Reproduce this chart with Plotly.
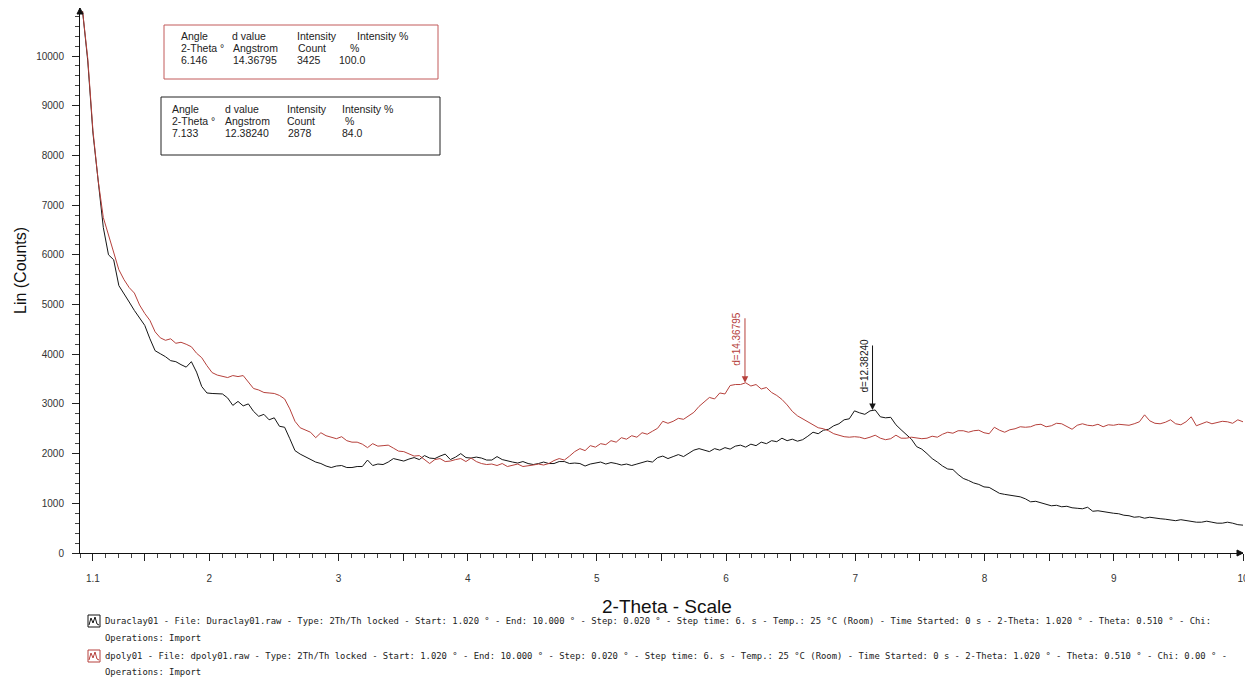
import numpy as np
import plotly.graph_objects as go

# Scan parameters (same for both patterns)
SCAN_START = 1.020
SCAN_END = 10.000
SCAN_STEP = 0.020

# Intensities (Lin counts) along the 2-Theta scan
duraclay01 = [
    10900, 9900, 8450, 7450, 6550, 6000, 5900, 5380, 5200, 5050,
    4880, 4740, 4580, 4310, 4070, 4010, 3950, 3870, 3850, 3790,
    3740, 3850, 3640, 3350, 3220, 3210, 3200, 3200, 3120, 2970,
    3050, 2960, 3000, 2850, 2750, 2790, 2680, 2720, 2550, 2530,
    2300, 2060, 1990, 1940, 1880, 1830, 1800, 1750, 1720, 1750,
    1760, 1720, 1720, 1740, 1740, 1870, 1760, 1790, 1780, 1830,
    1900, 1880, 1850, 1890, 1920, 1880, 1960, 1910, 1900, 1950,
    1990, 1880, 1930, 2000, 1920, 1910, 1930, 1910, 1870, 1870,
    1940, 1880, 1850, 1830, 1810, 1840, 1800, 1780, 1800, 1830,
    1800, 1800, 1840, 1840, 1800, 1810, 1800, 1750, 1790, 1810,
    1830, 1790, 1820, 1800, 1770, 1790, 1760, 1790, 1820, 1850,
    1830, 1920, 1950, 1900, 1940, 1980, 1940, 2010, 2070, 2100,
    2070, 2040, 2100, 2070, 2120, 2090, 2150, 2170, 2130, 2190,
    2160, 2230, 2200, 2260, 2240, 2310, 2260, 2290, 2250, 2280,
    2350, 2430, 2400, 2470, 2490, 2560, 2600, 2680, 2700, 2860,
    2820, 2790, 2860, 2878, 2740, 2720, 2730, 2580, 2480, 2390,
    2290, 2140, 2090, 2000, 1900, 1830, 1750, 1690, 1680, 1580,
    1500, 1460, 1410, 1380, 1330, 1320, 1260, 1200, 1180, 1160,
    1140, 1130, 1090, 1030, 1040, 1010, 970, 950, 960, 930,
    940, 910, 900, 890, 920, 840, 850, 830, 820, 800,
    790, 760, 750, 720, 730, 700, 720, 700, 690, 680,
    670, 650, 670, 650, 640, 620, 620, 640, 620, 600,
    600, 620, 600, 570, 560,
]

dpoly01 = [
    10900, 9950, 8500, 7500, 6750, 6400, 6050, 5700, 5500, 5340,
    5230, 4990, 4820, 4680, 4450, 4330, 4280, 4310, 4220, 4240,
    4200, 4150, 4020, 3930, 3770, 3630, 3580, 3550, 3530, 3570,
    3550, 3570, 3430, 3310, 3280, 3230, 3220, 3210, 3170, 3100,
    2900, 2650, 2520, 2480, 2430, 2320, 2420, 2360, 2330, 2300,
    2340, 2260, 2230, 2230, 2190, 2120, 2200, 2150, 2160, 2170,
    2110, 2050, 2040, 1990, 1950, 1960, 1870, 1800, 1880, 1900,
    1840, 1850, 1880, 1900, 1840, 1910, 1840, 1800, 1780, 1790,
    1760, 1800, 1740, 1760, 1790, 1740, 1750, 1770, 1790, 1770,
    1800, 1860, 1900, 1870, 1950, 2040, 2100, 2060, 2160, 2130,
    2200, 2180, 2260, 2230, 2320, 2290, 2360, 2330, 2420, 2390,
    2450, 2510, 2650, 2610, 2650, 2710, 2690, 2760, 2830, 2950,
    3040, 3130, 3100, 3220, 3200, 3370, 3390, 3390, 3425, 3360,
    3390, 3300, 3330, 3230, 3170, 3090, 2980, 2850, 2760, 2700,
    2640, 2590, 2520, 2500, 2460, 2400, 2370, 2340, 2330, 2340,
    2330, 2300, 2330, 2370, 2310, 2280, 2300, 2370, 2310, 2310,
    2330, 2320, 2300, 2310, 2350, 2330, 2390, 2430, 2410, 2460,
    2460, 2430, 2460, 2470, 2420, 2400, 2530, 2470, 2430, 2480,
    2500, 2540, 2530, 2540, 2580, 2590, 2540, 2560, 2610, 2600,
    2550, 2490, 2570, 2600, 2570, 2560, 2590, 2540, 2580, 2570,
    2590, 2580, 2570, 2600, 2640, 2780, 2660, 2610, 2600, 2630,
    2680, 2600, 2580, 2640, 2740, 2560, 2600, 2640, 2600, 2620,
    2650, 2640, 2610, 2680, 2640,
]

# Peak search results (dpoly01, Duraclay01)
peak_angle = [6.146, 7.133]
peak_d = ["14.36795", "12.38240"]
peak_count = [3425, 2878]
peak_pct = ["100.0", "84.0"]

# Axis ticks
x_tickvals = [1.1, 1.5, 2, 2.5, 3, 3.5, 4, 4.5, 5, 5.5, 6, 6.5, 7, 7.5, 8, 8.5, 9, 9.5, 10]
x_ticktext = ["1.1", "", "2", "", "3", "", "4", "", "5", "", "6", "", "7", "", "8", "", "9", "", "10"]
y_tickvals = [0, 1000, 2000, 3000, 4000, 5000, 6000, 7000, 8000, 9000, 10000]
y_ticktext = [str(v) for v in y_tickvals]

RED = "#b6413c"
BLACK = "#151515"
FONT = "Arial, Liberation Sans, sans-serif"

theta = np.linspace(SCAN_START, SCAN_END, len(duraclay01))

# Plot-area geometry in page pixels, used to place decorations
W, H = 1245, 677
L, R, T, B = 80, 1243, 8, 553


def pxx(x):
    return (x - L) / (R - L)


def pxy(y):
    return (B - y) / (B - T)


fig = go.Figure()
fig.add_trace(go.Scatter(x=theta, y=duraclay01, mode="lines",
                         line=dict(color=BLACK, width=1), name="Duraclay01"))
fig.add_trace(go.Scatter(x=theta, y=dpoly01, mode="lines",
                         line=dict(color=RED, width=1), name="dpoly01"))

fig.update_layout(
    width=W, height=H,
    margin=dict(l=L, r=W - R, t=T, b=H - B, pad=0, autoexpand=False),
    paper_bgcolor="white", plot_bgcolor="white",
    showlegend=False,
    font=dict(family=FONT, color="#222"),
)
fig.update_xaxes(
    range=[1.0, 10.0], showgrid=False, zeroline=False, automargin=False,
    showline=True, linecolor="#111", linewidth=1,
    tickmode="array", tickvals=x_tickvals, ticktext=x_ticktext,
    ticks="outside", ticklen=7, tickcolor="#222", tickwidth=1,
    ticklabelstandoff=9, ticklabeloverflow="allow",
    tickfont=dict(family=FONT, size=10, color="#333"),
    minor=dict(tickmode="linear", tick0=1.0, dtick=0.1, ticks="outside",
               ticklen=4, tickcolor="#444", tickwidth=1, showgrid=False),
)
fig.update_yaxes(
    range=[0, 10966], showgrid=False, zeroline=False, automargin=False,
    showline=True, linecolor="#111", linewidth=1,
    tickmode="array", tickvals=y_tickvals, ticktext=y_ticktext,
    ticks="outside", ticklen=7, tickcolor="#222", tickwidth=1,
    ticklabelstandoff=6,
    tickfont=dict(family=FONT, size=10, color="#333"),
    minor=dict(tickmode="linear", tick0=0, dtick=200, ticks="outside",
               ticklen=4, tickcolor="#444", tickwidth=1, showgrid=False),
)

# Axis titles
fig.add_annotation(xref="paper", yref="paper", x=pxx(20), y=pxy(270),
                   xanchor="center", yanchor="middle",
                   text="Lin (Counts)", textangle=-90, showarrow=False,
                   font=dict(family=FONT, size=16, color="#111"))
fig.add_annotation(xref="paper", yref="paper", x=pxx(667), y=pxy(606),
                   xanchor="center", yanchor="middle",
                   text="2-Theta - Scale", showarrow=False,
                   font=dict(family=FONT, size=19, color="#111"))

# Arrowheads at the ends of the axes
fig.add_shape(type="path", xref="paper", yref="paper",
              xsizemode="pixel", ysizemode="pixel", xanchor=0, yanchor=1,
              path="M -3,-6 L 0,0 L 3,-6 Z", fillcolor="#111",
              line=dict(color="#111", width=1))
fig.add_shape(type="path", xref="paper", yref="paper",
              xsizemode="pixel", ysizemode="pixel", xanchor=1, yanchor=0,
              path="M -6,3 L 0,0 L -6,-3 Z", fillcolor="#111",
              line=dict(color="#111", width=1))

# Peak markers with d-spacing labels
for ang, cnt, d, col in zip(peak_angle, peak_count, peak_d, [RED, BLACK]):
    fig.add_annotation(x=ang, y=cnt, text="", showarrow=True,
                       arrowhead=2, arrowsize=1.3, arrowwidth=1,
                       arrowcolor=col, ax=0, ay=-66, standoff=0)
    fig.add_annotation(x=ang, y=cnt, text=f"d={d}", textangle=-90,
                       xanchor="center", yanchor="middle",
                       showarrow=False, xshift=-8, yshift=44,
                       font=dict(family=FONT, size=10, color=col))

# Peak tables
boxes = [
    dict(rect=(164, 25, 438, 79), edge="#c25a5a", rows=(36, 48, 60),
         cells=[[179, 230, 295, 355], [179, 231, 296, 348], [179, 231, 295, 337]]),
    dict(rect=(161, 97, 440, 155), edge="#222222", rows=(109, 121, 133),
         cells=[[170, 223, 285, 340], [170, 223, 285, 343], [170, 223, 286, 340]]),
]
for i, bx in enumerate(boxes):
    x0, y0, x1, y1 = bx["rect"]
    fig.add_shape(type="rect", xref="paper", yref="paper",
                  x0=pxx(x0), x1=pxx(x1), y0=pxy(y0), y1=pxy(y1),
                  line=dict(color=bx["edge"], width=1), fillcolor="white",
                  layer="above")
    table = [
        ["Angle", "d value", "Intensity", "Intensity %"],
        ["2-Theta °", "Angstrom", "Count", "%"],
        [f"{peak_angle[i]:.3f}", peak_d[i], f"{peak_count[i]}", peak_pct[i]],
    ]
    for r, row in enumerate(table):
        for c, txt in enumerate(row):
            fig.add_annotation(xref="paper", yref="paper",
                               x=pxx(bx["cells"][r][c]), y=pxy(bx["rows"][r]),
                               xanchor="left", yanchor="middle", text=txt,
                               showarrow=False,
                               font=dict(family=FONT, size=10.5, color="#222"))

# Scan description lines
scan_desc = (f"Type: 2Th/Th locked - Start: {SCAN_START:.3f} ° - End: {SCAN_END:.3f} ° - "
             f"Step: {SCAN_STEP:.3f} ° - Step time: 6. s - Temp.: 25 °C (Room) - "
             f"Time Started: 0 s - 2-Theta: {SCAN_START:.3f} ° - Theta: 0.510 ° - Chi:")
legend_lines = [
    (f"Duraclay01 - File: Duraclay01.raw - {scan_desc}", 621, BLACK),
    ("Operations: Import", 638, None),
    (f"dpoly01 - File: dpoly01.raw - {scan_desc} 0.00 ° -", 656, RED),
    ("Operations: Import", 672, None),
]
for txt, yy, icon in legend_lines:
    fig.add_annotation(xref="paper", yref="paper", x=pxx(103), y=pxy(yy),
                       xanchor="left", yanchor="middle", text=txt,
                       showarrow=False,
                       font=dict(family="DejaVu Sans Mono, monospace", size=8.9,
                                 color="#222"))
    if icon:
        fig.add_shape(type="rect", xref="paper", yref="paper",
                      xsizemode="pixel", ysizemode="pixel",
                      xanchor=pxx(88), yanchor=pxy(yy),
                      x0=0, x1=12, y0=-6, y1=6,
                      line=dict(color=icon, width=1), fillcolor="white")
        fig.add_shape(type="path", xref="paper", yref="paper",
                      xsizemode="pixel", ysizemode="pixel",
                      xanchor=pxx(88), yanchor=pxy(yy),
                      path="M 1,-4 L 3,3 L 5,-2 L 7,4 L 9,-3 L 11,-4",
                      line=dict(color=icon, width=1))

fig.write_html("out.html")
